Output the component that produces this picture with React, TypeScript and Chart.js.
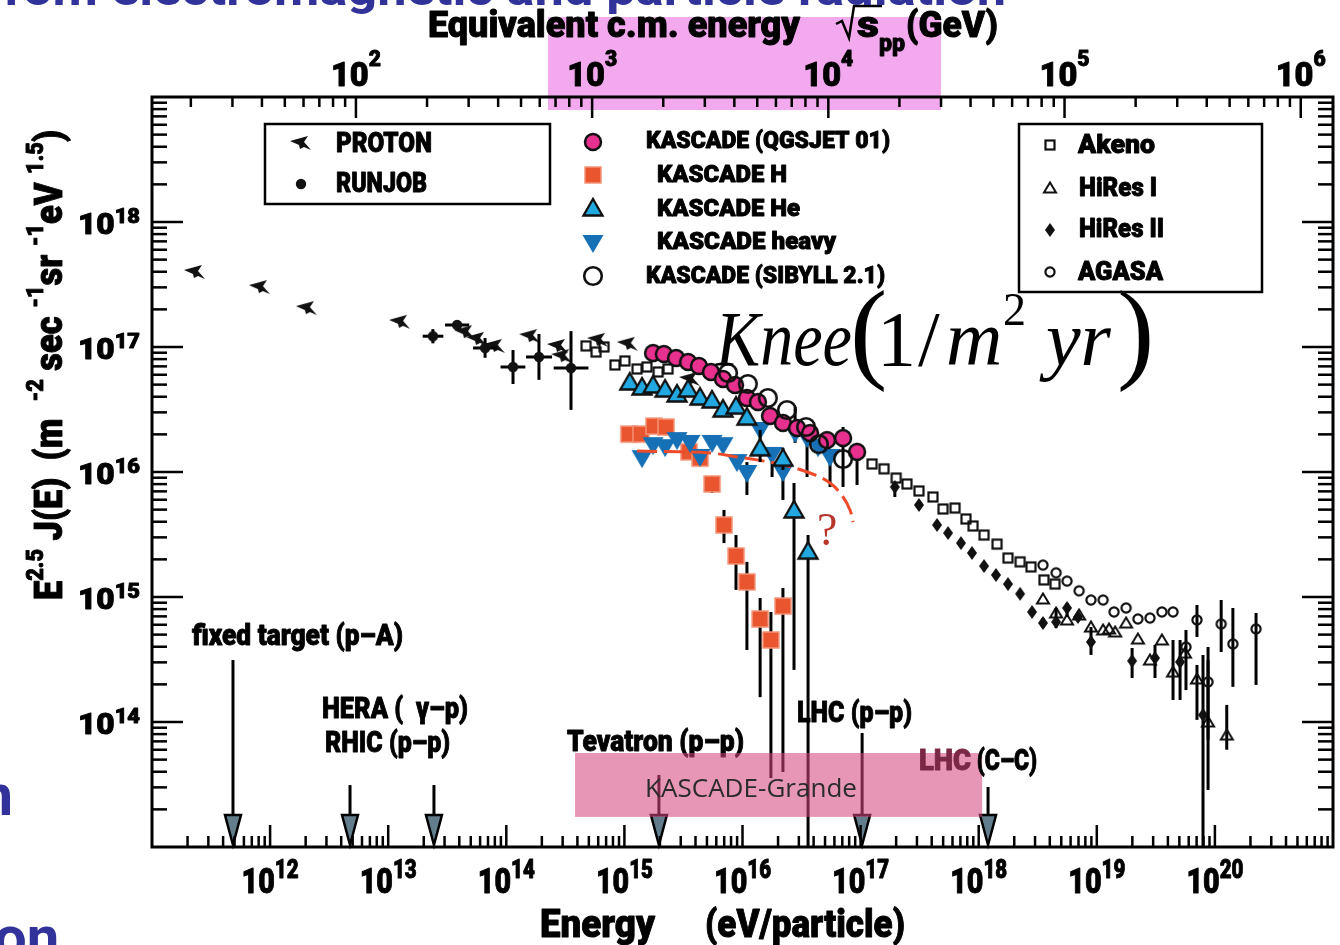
import React, { useEffect, useRef } from 'react';
import { Chart, registerables } from 'chart.js';

Chart.register(...registerables);

// Energy E in eV, flux scaled as E^2.5 J(E)  (m^-2 s^-1 sr^-1 eV^1.5)
// Rows: [E, flux] or [E, flux, fluxLow, fluxHigh]
const protonData = [
  [2.31e11, 3.91e17], [8.2e11, 2.96e17], [2.05e12, 2.01e17], [1.26e13, 1.56e17],
  [4.47e13, 1.29e17], [5.65e13, 1.14e17], [8.0e13, 1.0e17], [1.59e14, 1.2e17],
  [2.74e14, 1.0e17], [2.97e14, 8.3e16], [5.98e14, 1.12e17], [1.07e15, 1.04e17],
  [3.59e15, 5.44e16],
];

// [E, flux, Elow, Ehigh, fluxLow, fluxHigh]
const runjobData = [
  [2.39e13, 1.22e17, 1.96e13, 2.93e13, 1.07e17, 1.39e17],
  [3.83e13, 1.5e17, 3.03e13, 4.85e13, 1.37e17, 1.64e17],
  [6.61e13, 9.82e16, 5.23e13, 8.35e13, 8.2e16, 1.18e17],
  [1.14e14, 6.92e16, 8.94e13, 1.45e14, 5.06e16, 9.46e16],
  [1.89e14, 8.32e16, 1.47e14, 2.44e14, 5.46e16, 1.27e17],
  [3.53e14, 6.79e16, 2.52e14, 4.96e14, 3.14e16, 1.34e17],
];

const qgsjetData = [
  [1.75e15, 8.95e16], [2.16e15, 8.79e16], [2.74e15, 8.17e16], [3.46e15, 7.59e16],
  [4.28e15, 7.05e16], [5.41e15, 6.31e16], [6.84e15, 5.55e16], [8.64e15, 4.97e16],
  [1.09e16, 3.91e16], [1.35e16, 3.63e16], [1.71e16, 2.81e16], [2.2e16, 2.47e16],
  [2.9e16, 2.25e16], [3.73e16, 2.05e16], [5.2e16, 1.8e16],
  [7.1e16, 1.87e16, 7.59e15, 2.29e16], [9.33e16, 1.45e16, 7.87e15, 1.58e16],
];

const sibyllData = [
  [7.54e15, 6.19e16], [1.11e16, 5.06e16], [1.64e16, 3.91e16], [2.38e16, 3.13e16],
  [3.45e16, 2.29e16], [4.44e16, 1.67e16], [7.1e16, 1.27e16],
];

const kascadeH = [
  [1.09e15, 2.01e16], [1.38e15, 2.01e16], [1.78e15, 2.33e16], [2.25e15, 2.29e16],
  [3.52e15, 1.45e16], [4.37e15, 1.29e16], [5.52e15, 8.02e15, 6.79e15, 9.12e15],
  [6.97e15, 3.77e15, 2.7e15, 4.97e15], [8.81e15, 2.13e15, 1.14e15, 3.13e15],
  [1.09e16, 1.32e15, 3.77e14, 1.91e15], [1.41e16, 6.67e14, 1.58e14, 9.82e14],
  [1.74e16, 4.53e14, 3.56e13, 7.59e14], [2.2e16, 8.47e14, 3.98e13, 1.18e15],
];

const kascadeHe = [
  [1.11e15, 5.25e16], [1.41e15, 4.79e16], [1.75e15, 4.97e16], [2.21e15, 4.61e16],
  [2.79e15, 4.21e16], [3.46e15, 4.61e16], [4.37e15, 3.98e16], [5.52e15, 3.77e16],
  [6.84e15, 3.19e16], [8.81e15, 3.37e16], [1.09e16, 2.75e16],
  [1.41e16, 1.56e16, 1.2e16, 2.17e16], [2.2e16, 1.29e16, 1.04e16, 1.56e16],
  [2.73e16, 4.97e15, 2.61e14, 8.17e15], [3.59e16, 2.33e15, 1e12, 3.13e15],
];

const kascadeHeavy = [
  [1.41e15, 1.29e16], [1.75e15, 1.64e16], [2.21e15, 1.58e16], [2.79e15, 1.8e16],
  [3.59e15, 1.71e16], [4.37e15, 1.32e16], [5.52e15, 1.71e16], [6.84e15, 1.64e16],
  [8.98e15, 1.2e16], [1.09e16, 9.82e15, 6.55e15, 1.2e16], [1.41e16, 2.17e16],
  [1.78e16, 1.37e16, 9.12e15, 1.58e16], [2.2e16, 1.0e16, 5.97e15, 1.5e16],
  [2.79e16, 2.05e16, 1.71e16, 3.31e16], [3.52e16, 1.87e16, 9.12e15, 1.87e16],
  [4.36e16, 1.58e16], [5.51e16, 1.32e16, 7.59e15, 1.32e16],
];

const akenoData = [
  [4.73e14, 1.02e17], [5.75e14, 9.12e16], [6.72e14, 1.0e17], [8.32e14, 7.18e16],
  [1.01e15, 7.73e16], [1.28e15, 6.67e16], [1.55e15, 6.92e16], [1.93e15, 6.31e16],
  [2.34e15, 6.67e16], [1.25e17, 1.16e16], [1.58e17, 1.06e16], [2.0e17, 8.95e15],
  [2.47e17, 8.02e15], [3.12e17, 7.05e15], [4.1e17, 6.31e15], [4.99e17, 5.06e15],
  [6.3e17, 5.15e15], [7.8e17, 4.21e15], [8.95e17, 3.7e15], [1.11e18, 3.13e15],
  [1.43e18, 2.65e15], [1.77e18, 2.05e15], [2.24e18, 1.91e15], [2.77e18, 1.74e15],
  [3.57e18, 1.37e15], [4.43e18, 1.27e15],
];

const hires1Data = [
  [3.5e18, 9.64e14], [4.52e18, 7.45e14], [5.6e18, 6.55e14], [7.08e18, 7.18e14],
  [8.93e18, 5.75e14], [1.13e19, 5.45e14], [1.27e19, 5.55e14], [1.43e19, 5.25e14],
  [1.77e19, 6.19e14], [2.23e19, 4.61e14], [2.82e19, 3.13e14], [3.56e19, 4.53e14],
  [4.42e19, 2.51e14, 1.5e14, 4.53e14], [5.58e19, 3.56e14],
  [7.05e19, 2.21e14, 1.04e14, 2.86e14], [8.75e19, 1.0e14, 2.86e13, 3.13e14],
  [1.26e20, 7.87e13, 6.0e13, 1.37e14],
];

const hires2Data = [
  [1.95e17, 7.59e15, 6.31e15, 8.17e15], [3.12e17, 5.45e15], [4.44e17, 3.77e15],
  [5.5e17, 3.25e15], [7.08e17, 2.7e15], [8.77e17, 2.25e15], [1.11e18, 1.77e15],
  [1.4e18, 1.5e15], [1.77e18, 1.27e15], [2.24e18, 1.06e15], [2.83e18, 7.59e14],
  [3.5e18, 6.19e14, 5.65e14, 6.79e14], [4.52e18, 6.31e14, 5.65e14, 8.17e14],
  [5.6e18, 8.17e14, 6.92e14, 8.95e14], [6.93e18, 6.92e14],
  [8.93e18, 4.37e14, 3.44e14, 5.75e14], [1.99e19, 3.08e14, 2.25e14, 3.91e14],
  [3.11e19, 3.25e14, 2.25e14, 4.13e14], [5.07e19, 3.02e14, 1.5e14, 4.53e14],
  [7.93e19, 1.14e14, 1e12, 3.44e14],
];

const agasaData = [
  [3.5e18, 1.8e15], [4.52e18, 1.56e15], [5.6e18, 1.34e15], [7.08e18, 1.12e15],
  [8.93e18, 9.46e14], [1.13e19, 9.46e14], [1.4e19, 7.59e14], [1.77e19, 8.17e14],
  [2.23e19, 6.67e14], [2.82e19, 6.79e14], [3.56e19, 7.59e14], [4.42e19, 7.59e14],
  [5.69e19, 3.98e14, 1.8e14, 5.45e14], [7.05e19, 6.55e14, 4.79e14, 8.63e14],
  [8.75e19, 2.09e14, 7.18e13, 3.98e14], [1.13e20, 6.08e14, 3.63e14, 9.46e14],
  [1.42e20, 4.21e14, 1.91e14, 8.17e14], [2.23e20, 5.55e14, 1.98e14, 7.45e14],
];

// dashed knee sketch through the heavy component
const kneeCurve = [
  [1.28e15, 1.47e16], [2.96e15, 1.45e16], [5.31e15, 1.42e16], [8.98e15, 1.32e16],
  [1.33e16, 1.25e16], [2.2e16, 1.14e16], [3.73e16, 9.82e15], [5.51e16, 8.17e15],
  [7.1e16, 6.31e15], [8.13e16, 4.97e15], [8.63e16, 3.98e15],
];

// accelerator equivalents: label, lab energy (eV), arrow top (flux units)
const machineLabels = ['fixed target (p–A)', 'HERA (  γ–p)', 'RHIC (p–p)', 'Tevatron (p–p)', 'LHC (p–p)', 'LHC (C–C)'];
const machineE = [4.85e11, 4.75e12, 2.44e13, 1.96e15, 1.03e17, 1.2e18];
const machineTop = [3.13e14, 3.13e13, 3.13e13, 3.77e13, 8.17e13, 3.02e13];

// KASCADE-Grande energy window and the highlighted sqrt(s) window (GeV)
const grandeE = [3.82e14, 1.07e18];
const grandeFlux = [1.74e13, 5.65e13];
const cmsWindow = [650, 30000];

const bottomExps = [12, 13, 14, 15, 16, 17, 18, 19, 20];
const topExps = [2, 3, 4, 5, 6];
const leftExps = [14, 15, 16, 17, 18];

const PROTON_MASS_GEV = 0.938;
const rsToE = (rs: number) => (1e9 * rs * rs) / (2 * PROTON_MASS_GEV);

const SANS = 'Roboto, "Open Sans", "DejaVu Sans", sans-serif';
const SERIF = '"Liberation Serif", "DejaVu Serif", "Times New Roman", serif';
const LIGHT = '"Open Sans", Roboto, sans-serif';

type Part = { t: string; size: number; dy?: number; fam?: string; w?: string; it?: boolean; col?: string; sw?: number };

const fontOf = (p: Part) => `${p.it ? 'italic ' : ''}${p.w ?? '900'} ${p.size}px ${p.fam ?? SANS}`;

function rich(ctx: CanvasRenderingContext2D, parts: Part[], x: number, y: number, align = 'left', width?: number, color = '#000') {
  ctx.save();
  ctx.textAlign = 'left';
  ctx.textBaseline = 'alphabetic';
  ctx.lineJoin = 'round';
  const ws = parts.map((p) => {
    ctx.font = fontOf(p);
    return ctx.measureText(p.t).width;
  });
  const W = ws.reduce((a, b) => a + b, 0);
  const s = width ? width / W : 1;
  const tw = W * s;
  const x0 = align === 'left' ? x : align === 'center' ? x - tw / 2 : x - tw;
  ctx.translate(x0, y);
  ctx.scale(s, 1);
  let cx = 0;
  parts.forEach((p, i) => {
    ctx.font = fontOf(p);
    const col = p.col ?? color;
    ctx.fillStyle = col;
    ctx.fillText(p.t, cx, p.dy ?? 0);
    // heavy sans lettering gets a thin outline of its own colour
    const sw = p.sw ?? (p.fam == null && (p.w ?? '900') === '900' ? 0.9 : 0);
    if (sw > 0) {
      ctx.strokeStyle = col;
      ctx.lineWidth = sw;
      ctx.strokeText(p.t, cx, p.dy ?? 0);
    }
    cx += ws[i];
  });
  ctx.restore();
}

function marker(w: number, h: number, draw: (c: CanvasRenderingContext2D) => void) {
  const cv = document.createElement('canvas');
  cv.width = w;
  cv.height = h;
  const c = cv.getContext('2d')!;
  c.translate(w / 2, h / 2);
  c.lineJoin = 'miter';
  draw(c);
  return cv;
}

function buildMarkers() {
  const poly = (c: CanvasRenderingContext2D, pts: number[][]) => {
    c.beginPath();
    pts.forEach(([px, py], i) => (i ? c.lineTo(px, py) : c.moveTo(px, py)));
    c.closePath();
  };
  return {
    proton: marker(26, 22, (c) => {
      poly(c, [[-11, -3], [7, -8], [3, -2], [10, 6], [3, 3], [-1, 5], [-2, 1]]);
      c.fillStyle = '#111';
      c.fill();
    }),
    runjob: marker(14, 14, (c) => {
      c.beginPath();
      c.arc(0, 0, 5.2, 0, Math.PI * 2);
      c.fillStyle = '#111';
      c.fill();
    }),
    qgsjet: marker(22, 22, (c) => {
      c.beginPath();
      c.arc(0, 0, 8, 0, Math.PI * 2);
      c.fillStyle = '#e8308e';
      c.fill();
      c.lineWidth = 2.5;
      c.strokeStyle = '#111';
      c.stroke();
    }),
    sibyll: marker(24, 24, (c) => {
      c.beginPath();
      c.arc(0, 0, 8.8, 0, Math.PI * 2);
      c.lineWidth = 2.6;
      c.strokeStyle = '#111';
      c.stroke();
    }),
    h: marker(20, 20, (c) => {
      c.fillStyle = '#e8552e';
      c.fillRect(-8, -8, 16, 16);
      c.lineWidth = 1.5;
      c.strokeStyle = '#f39478';
      c.strokeRect(-8, -8, 16, 16);
    }),
    he: marker(24, 22, (c) => {
      poly(c, [[0, -9], [9.5, 7.5], [-9.5, 7.5]]);
      c.fillStyle = '#22a8e0';
      c.fill();
      c.lineWidth = 2.3;
      c.strokeStyle = '#111';
      c.stroke();
    }),
    heavy: marker(24, 22, (c) => {
      poly(c, [[-10.5, -8], [10.5, -8], [0, 10]]);
      c.fillStyle = '#1670b6';
      c.fill();
    }),
    akeno: marker(14, 14, (c) => {
      c.lineWidth = 2.2;
      c.strokeStyle = '#111';
      c.strokeRect(-4.5, -4.5, 9, 9);
    }),
    hires1: marker(16, 14, (c) => {
      poly(c, [[0, -5.5], [6, 4.5], [-6, 4.5]]);
      c.lineWidth = 2;
      c.strokeStyle = '#111';
      c.stroke();
    }),
    hires2: marker(12, 16, (c) => {
      poly(c, [[0, -7], [5, 0], [0, 7], [-5, 0]]);
      c.fillStyle = '#111';
      c.fill();
    }),
    agasa: marker(14, 14, (c) => {
      c.beginPath();
      c.arc(0, 0, 4.6, 0, Math.PI * 2);
      c.lineWidth = 2.2;
      c.strokeStyle = '#111';
      c.stroke();
    }),
  };
}

const rows = (r: number[][]) =>
  r.map((v) => (v.length >= 4 ? { x: v[0], y: v[1], yl: v[2], yh: v[3] } : { x: v[0], y: v[1] }));

export default function App() {
  const ref = useRef<HTMLCanvasElement>(null);

  useEffect(() => {
    const canvas = ref.current!;
    const M = buildMarkers();

    const line = (ctx: CanvasRenderingContext2D, x1: number, y1: number, x2: number, y2: number) => {
      ctx.beginPath();
      ctx.moveTo(x1, y1);
      ctx.lineTo(x2, y2);
      ctx.stroke();
    };

    const deco = {
      id: 'deco',
      beforeDraw(chart: any) {
        const ctx: CanvasRenderingContext2D = chart.ctx;
        const X = (e: number) => chart.scales.x.getPixelForValue(e);
        ctx.save();
        ctx.fillStyle = '#fff';
        ctx.fillRect(0, 0, chart.width, chart.height);
        const x1 = X(rsToE(cmsWindow[0]));
        const x2 = X(rsToE(cmsWindow[1]));
        ctx.fillStyle = '#f3a9ee';
        ctx.fillRect(x1, 17, x2 - x1, 93);
        ctx.restore();
      },
      beforeDatasetDraw(chart: any, args: any) {
        const ds = chart.data.datasets[args.index];
        const ctx: CanvasRenderingContext2D = chart.ctx;
        const a = chart.chartArea;
        const X = (e: number) => chart.scales.x.getPixelForValue(e);
        const Y = (v: number) => chart.scales.y.getPixelForValue(v);
        ctx.save();
        ctx.beginPath();
        ctx.rect(a.left, a.top, a.right - a.left, a.bottom - a.top);
        ctx.clip();
        ctx.strokeStyle = '#000';
        ctx.lineWidth = 3;
        ds.data.forEach((p: any) => {
          const px = X(p.x);
          const py = Y(p.y);
          if (p.yl != null) line(ctx, px, Y(p.yl), px, Y(p.yh));
          if (p.xl != null) line(ctx, X(p.xl), py, X(p.xh), py);
        });
        ctx.restore();
      },
      afterDatasetsDraw(chart: any) {
        const ctx: CanvasRenderingContext2D = chart.ctx;
        const a = chart.chartArea;
        const X = (e: number) => chart.scales.x.getPixelForValue(e);
        const Y = (v: number) => chart.scales.y.getPixelForValue(v);
        ctx.save();

        // accelerator arrows
        machineE.forEach((E, i) => {
          const x = X(E);
          const yTop = Y(machineTop[i]);
          ctx.strokeStyle = '#000';
          ctx.lineWidth = 3;
          line(ctx, x, yTop, x, a.bottom - 31);
          ctx.beginPath();
          ctx.moveTo(x - 8, a.bottom - 32);
          ctx.lineTo(x + 8, a.bottom - 32);
          ctx.lineTo(x, a.bottom - 2);
          ctx.closePath();
          ctx.fillStyle = '#627d8c';
          ctx.fill();
          ctx.lineWidth = 2.5;
          ctx.stroke();
        });

        const lbl = (t: string, x: number, y: number, w: number) => rich(ctx, [{ t, size: 29 }], x, y, 'left', w);
        lbl(machineLabels[0], 192, 645, 211);
        lbl(machineLabels[1], 322, 718, 146);
        lbl(machineLabels[2], 325, 752, 125);
        lbl(machineLabels[3], 567, 751, 177);
        lbl(machineLabels[4], 797, 722, 115);

        // KASCADE-Grande window
        const gx1 = X(grandeE[0]);
        const gx2 = X(grandeE[1]);
        const gy1 = Y(grandeFlux[1]);
        const gy2 = Y(grandeFlux[0]);
        ctx.fillStyle = 'rgba(212,71,124,0.565)';
        ctx.fillRect(gx1, gy1, gx2 - gx1, gy2 - gy1);
        rich(ctx, [{ t: 'KASCADE-Grande', size: 25, w: '400', fam: LIGHT }], 645, 797, 'left', 212, '#2b2b2b');
        const [lhc, cc] = [machineLabels[5].slice(0, 3), machineLabels[5].slice(3)];
        rich(ctx, [{ t: lhc, size: 29 }], 919, 770, 'left', 52, '#7a2846');
        rich(ctx, [{ t: cc, size: 29 }], 971, 770, 'left', 66, '#000');

        // knee annotation
        const serif = (t: string, x: number, y: number, size: number, it = false, width?: number) =>
          rich(ctx, [{ t, size, w: '400', it, fam: SERIF }], x, y, 'left', width);
        serif('Knee', 716, 365, 78, true, 136);
        serif('(', 850, 368, 112);
        serif('1', 877, 365, 78);
        serif('/', 918, 365, 78);
        serif('m', 946, 365, 78, true);
        serif('2', 1003, 325, 46);
        serif('yr', 1046, 365, 78, true);
        serif(')', 1117, 368, 112);
        rich(ctx, [{ t: '?', size: 46, w: '400', fam: SERIF }], 817, 545, 'left', undefined, '#b8352a');

        // legend: direct measurements
        ctx.strokeStyle = '#000';
        ctx.lineWidth = 2.5;
        ctx.strokeRect(265, 124, 285, 80);
        const put = (cv: HTMLCanvasElement, x: number, y: number) => ctx.drawImage(cv, x - cv.width / 2, y - cv.height / 2);
        put(M.proton, 301, 144);
        put(M.runjob, 301, 184);
        rich(ctx, [{ t: 'PROTON', size: 27 }], 336, 152, 'left', 96);
        rich(ctx, [{ t: 'RUNJOB', size: 27 }], 336, 192, 'left', 91);

        // legend: KASCADE
        put(M.qgsjet, 593, 142);
        put(M.h, 593, 175);
        put(M.he, 593, 208);
        put(M.heavy, 593, 243);
        put(M.sibyll, 593, 276);
        rich(ctx, [{ t: 'KASCADE (QGSJET 01)', size: 23 }], 646, 148, 'left', 244);
        rich(ctx, [{ t: 'KASCADE H', size: 23 }], 657, 182, 'left', 130);
        rich(ctx, [{ t: 'KASCADE He', size: 23 }], 657, 216, 'left', 143);
        rich(ctx, [{ t: 'KASCADE heavy', size: 23 }], 657, 249, 'left', 179);
        rich(ctx, [{ t: 'KASCADE (SIBYLL 2.1)', size: 23 }], 646, 283, 'left', 239);

        // legend: air shower arrays
        ctx.strokeRect(1019, 124, 243, 168);
        put(M.akeno, 1050, 145);
        put(M.hires1, 1050, 188);
        put(M.hires2, 1050, 230);
        put(M.agasa, 1050, 272);
        rich(ctx, [{ t: 'Akeno', size: 26 }], 1078, 153, 'left', 77);
        rich(ctx, [{ t: 'HiRes I', size: 26 }], 1079, 196, 'left', 78);
        rich(ctx, [{ t: 'HiRes II', size: 26 }], 1079, 237, 'left', 85);
        rich(ctx, [{ t: 'AGASA', size: 26 }], 1078, 280, 'left', 85);

        // frame and ticks
        ctx.strokeStyle = '#000';
        ctx.lineWidth = 2.5;
        for (let d = 11; d <= 20; d++) {
          for (let m = 1; m <= 9; m++) {
            const x = X(m * Math.pow(10, d));
            if (x <= a.left + 1) continue;
            line(ctx, x, a.bottom, x, a.bottom - (m === 1 ? 22 : 11));
          }
        }
        for (let d = 13; d <= 18; d++) {
          for (let m = 1; m <= 9; m++) {
            const y = Y(m * Math.pow(10, d));
            if (y >= a.bottom - 1) continue;
            const len = m === 1 ? 31 : 15;
            line(ctx, a.left, y, a.left + len, y);
            line(ctx, a.right, y, a.right - len, y);
          }
        }
        for (let k = 1; k <= 6; k++) {
          for (let m = 1; m <= 9; m++) {
            const E = rsToE(m * Math.pow(10, k));
            if (E <= 1e11 || E >= 1e21) continue;
            const x = X(E);
            line(ctx, x, a.top, x, a.top + (m === 1 ? 21 : 10));
          }
        }
        ctx.lineWidth = 3;
        ctx.strokeRect(a.left, a.top, a.right - a.left, a.bottom - a.top);

        // tick labels
        bottomExps.forEach((d) =>
          rich(ctx, [{ t: '10', size: 35 }, { t: String(d), size: 25, dy: -15 }], X(Math.pow(10, d)), 893, 'center', 57),
        );
        topExps.forEach((k) =>
          rich(ctx, [{ t: '10', size: 34 }, { t: String(k), size: 22, dy: -20 }], X(rsToE(Math.pow(10, k))), 86, 'center', 50),
        );
        leftExps.forEach((d) =>
          rich(ctx, [{ t: '10', size: 29 }, { t: String(d), size: 20, dy: -11 }], 140, Y(Math.pow(10, d)) + 12, 'right', 62),
        );

        // axis titles
        rich(ctx, [{ t: 'Energy', size: 38 }], 540, 937, 'left', 115);
        rich(ctx, [{ t: '(eV/particle)', size: 38 }], 705, 937, 'left', 200);
        rich(ctx, [{ t: 'Equivalent c.m. energy', size: 36 }], 428, 37, 'left', 372);
        ctx.lineWidth = 2.5;
        ctx.beginPath();
        ctx.moveTo(836, 24);
        ctx.lineTo(842, 21);
        ctx.lineTo(849, 38);
        ctx.lineTo(854, 6);
        ctx.lineTo(882, 6);
        ctx.stroke();
        rich(ctx, [{ t: 's', size: 36 }], 857, 37, 'left', 22);
        rich(ctx, [{ t: 'pp', size: 24 }], 879, 51, 'left', 26);
        rich(ctx, [{ t: '(GeV)', size: 36 }], 906, 37, 'left', 92);

        ctx.save();
        ctx.translate(62, 600);
        ctx.rotate(-Math.PI / 2);
        rich(
          ctx,
          [
            { t: 'E', size: 38 },
            { t: '2.5', size: 24, dy: -19 },
            { t: ' J(E)  (m  ', size: 38 },
            { t: '-2', size: 24, dy: -19 },
            { t: ' sec ', size: 38 },
            { t: '-1', size: 24, dy: -19 },
            { t: 'sr ', size: 38 },
            { t: '-1', size: 24, dy: -19 },
            { t: 'eV ', size: 38 },
            { t: '1.5', size: 24, dy: -19 },
            { t: ')', size: 38 },
          ],
          0,
          0,
          'left',
          470,
        );
        ctx.restore();

        // surrounding slide text
        const blue = '#32339a';
        rich(ctx, [{ t: 'from electromagnetic and particle radiation', size: 46, w: '700' }], -14, 5, 'left', 1020, blue);
        rich(ctx, [{ t: 'n', size: 58, w: '700' }], 13, 815, 'right', undefined, blue);
        rich(ctx, [{ t: 'on', size: 58, w: '700' }], -6, 957, 'left', undefined, blue);

        ctx.restore();
      },
    };

    const pts = { showLine: false, pointRadius: 6 };
    const chart = new Chart(canvas, {
      type: 'scatter',
      data: {
        datasets: [
          { label: 'KASCADE (SIBYLL 2.1)', data: rows(sibyllData), pointStyle: M.sibyll, order: 0, ...pts },
          { label: 'KASCADE (QGSJET 01)', data: rows(qgsjetData), pointStyle: M.qgsjet, order: 1, ...pts },
          { label: 'KASCADE He', data: rows(kascadeHe), pointStyle: M.he, order: 2, ...pts },
          {
            label: 'knee',
            data: rows(kneeCurve),
            showLine: true,
            pointRadius: 0,
            borderColor: '#ee4b2b',
            borderWidth: 3,
            borderDash: [20, 7],
            tension: 0.4,
            order: 3,
          },
          { label: 'KASCADE heavy', data: rows(kascadeHeavy), pointStyle: M.heavy, order: 4, ...pts },
          { label: 'KASCADE H', data: rows(kascadeH), pointStyle: M.h, order: 5, ...pts },
          {
            label: 'RUNJOB',
            data: runjobData.map((v) => ({ x: v[0], y: v[1], xl: v[2], xh: v[3], yl: v[4], yh: v[5] })),
            pointStyle: M.runjob,
            order: 6,
            ...pts,
          },
          { label: 'PROTON', data: rows(protonData), pointStyle: M.proton, order: 7, ...pts },
          { label: 'AGASA', data: rows(agasaData), pointStyle: M.agasa, order: 8, ...pts },
          { label: 'HiRes II', data: rows(hires2Data), pointStyle: M.hires2, order: 9, ...pts },
          { label: 'HiRes I', data: rows(hires1Data), pointStyle: M.hires1, order: 10, ...pts },
          { label: 'Akeno', data: rows(akenoData), pointStyle: M.akeno, order: 11, ...pts },
        ] as any,
      },
      options: {
        responsive: false,
        animation: false,
        devicePixelRatio: 1,
        events: [],
        layout: { padding: { left: 152, top: 97, right: 7, bottom: 98 } },
        plugins: { legend: { display: false }, tooltip: { enabled: false } },
        scales: {
          x: { type: 'logarithmic', min: 1e11, max: 1e21, display: false },
          y: { type: 'logarithmic', min: 1e13, max: 1e19, display: false },
        },
      } as any,
      plugins: [deco as any],
    });
    return () => chart.destroy();
  }, []);

  return (
    <canvas
      ref={ref}
      width={1340}
      height={945}
      style={{ position: 'fixed', left: 0, top: 0, display: 'block', width: 1340, height: 945 }}
    />
  );
}
